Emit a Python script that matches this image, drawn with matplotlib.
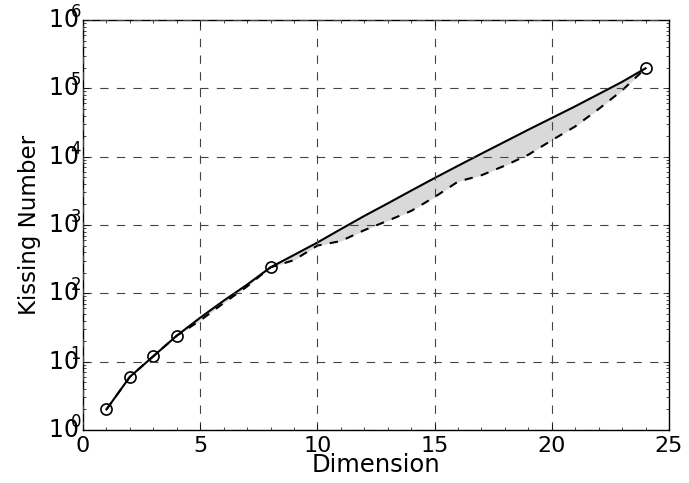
import math
import matplotlib
matplotlib.use("Agg")
import matplotlib.pyplot as plt
from matplotlib.ticker import FuncFormatter

plt.style.use("classic")
plt.rcParams["mathtext.fontset"] = "dejavusans"

dims = list(range(1, 25))
lower = [2, 6, 12, 24, 40, 72, 126, 240, 306, 500, 582, 840, 1154, 1606,
         2564, 4320, 5346, 7398, 10668, 17400, 27720, 49896, 93150, 196560]
upper = [2, 6, 12, 24, 44, 78, 134, 240, 364, 554, 870, 1357, 2069, 3183,
         4866, 7355, 11072, 16572, 24812, 36764, 54584, 82340, 124416, 196560]
known_dims = [1, 2, 3, 4, 8, 24]
known_vals = [2, 6, 12, 24, 240, 196560]

fig = plt.figure(figsize=(6.89, 4.83), dpi=100, facecolor="white")
ax = fig.add_axes([83 / 689, 53 / 483, 586 / 689, 410 / 483])

ax.fill_between(dims, lower, upper, color="#d9d9d9", linewidth=0)
ax.plot(dims, upper, "k-", linewidth=1.5)
ax.plot(dims, lower, "k--", linewidth=1.5)
ax.plot(known_dims, known_vals, "o", markerfacecolor="none",
        markeredgecolor="k", markeredgewidth=1.2, markersize=8)

ax.set_yscale("log")
ax.set_xlim(0, 25)
ax.set_ylim(1, 1e6)
ax.set_xticks([0, 5, 10, 15, 20, 25])
ax.set_xticks(range(0, 26), minor=True)


def pow_label(v, pos):
    # old-style label: exponent tucked over the zero
    e = int(round(math.log10(v)))
    return r"$10^{\!\!\!%d}$" % e


ax.yaxis.set_major_formatter(FuncFormatter(pow_label))
ax.grid(True, which="major", linestyle="--", color="#444444", linewidth=0.8)
ax.tick_params(labelsize=16, direction="in", which="both")
ax.tick_params(axis="y", which="major", labelsize=17, pad=1)
ax.set_xlabel("Dimension", fontsize=17.5, labelpad=-2)
ax.set_ylabel("Kissing Number", fontsize=16.5)

fig.savefig("out.png", dpi=100, facecolor="white")
